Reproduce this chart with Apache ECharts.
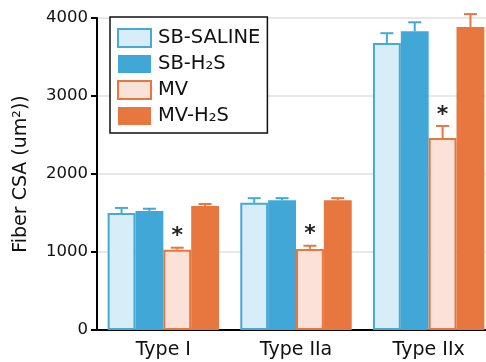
<!DOCTYPE html>
<html>
<head>
<meta charset="utf-8">
<script src="https://cdn.jsdelivr.net/npm/echarts@6/dist/echarts.min.js"></script>
<style>
html,body{margin:0;padding:0;background:#fff;}
#chart{width:486px;height:362px;}
</style>
</head>
<body>
<div id="chart"></div>
<script>
var categories = ['Type I', 'Type IIa', 'Type IIx'];
var seriesNames = ['SB-SALINE', 'SB-H\u2082S', 'MV', 'MV-H\u2082S'];
var sbSaline = [1500, 1630, 3680];
var sbH2S = [1525, 1665, 3830];
var mv = [1030, 1040, 2460];
var mvH2S = [1590, 1665, 3885];
var sbSalineErr = [65, 60, 125];
var sbH2SErr = [30, 25, 115];
var mvErr = [25, 40, 155];
var mvH2SErr = [25, 25, 165];
var yTicks = [0, 1000, 2000, 3000, 4000];
var yTitle = 'Fiber CSA (um\u00b2))';

var values = [sbSaline, sbH2S, mv, mvH2S];
var errs = [sbSalineErr, sbH2SErr, mvErr, mvH2SErr];
var fills = ['#d7edf7', '#40a7d6', '#fae2d8', '#e8763f'];
var strokes = ['#47a9d8', '#40a7d6', '#e8763f', '#e8763f'];
var catGapPct = 16;

var font = 'DejaVu Sans';

var series = [];
values.forEach(function (vals, si) {
  series.push({
    name: seriesNames[si],
    type: 'bar',
    data: vals,
    barGap: '0%',
    barCategoryGap: catGapPct + '%',
    itemStyle: {
      color: fills[si],
      borderColor: strokes[si],
      borderWidth: (si === 0 || si === 2) ? 2 : 0
    },
    z: 2
  });
});

var errData = [];
values.forEach(function (vals, si) {
  vals.forEach(function (v, ci) {
    errData.push([ci, v, v + errs[si][ci], si]);
  });
});

series.push({
  type: 'custom',
  name: 'err',
  data: errData,
  z: 3,
  renderItem: function (params, api) {
    var ci = api.value(0), v = api.value(1), e = api.value(2), si = api.value(3);
    var band = api.size([1, 0])[0];
    var bw = band * (1 - catGapPct / 100) / 4;
    var base = api.coord([ci, v]);
    var top = api.coord([ci, e]);
    var x = base[0] + (si - 1.5) * bw;
    var col = strokes[si];
    var children = [
      { type: 'line', shape: { x1: x, y1: base[1], x2: x, y2: top[1] }, style: { stroke: col, lineWidth: 2 } },
      { type: 'line', shape: { x1: x - 6.5, y1: top[1], x2: x + 6.5, y2: top[1] }, style: { stroke: col, lineWidth: 2 } }
    ];
    if (si === 2) {
      children.push({ type: 'text', x: x, y: top[1] - 11, style: { text: '*', fontSize: 22, fontWeight: 'bold', fontFamily: font, fill: '#222', align: 'center', verticalAlign: 'middle' } });
    }
    return { type: 'group', children: children };
  }
});

var chart = echarts.init(document.getElementById('chart'), null, { renderer: 'canvas' });
chart.setOption({
  animation: false,
  backgroundColor: '#fff',
  textStyle: { fontFamily: font },
  grid: { left: 97, top: 18, height: 312, width: 398, containLabel: false, outerBoundsMode: 'none' },
  legend: {
    data: seriesNames,
    orient: 'vertical',
    left: 110,
    top: 17,
    itemWidth: 33,
    itemHeight: 18,
    itemGap: 6,
    padding: [11, 7, 7, 7],
    borderColor: '#111',
    borderWidth: 1.5,
    backgroundColor: '#fff',
    icon: 'rect',
    textStyle: { fontSize: 19.5, color: '#111', fontFamily: font, padding: [0, 0, 0, 2] }
  },
  xAxis: {
    type: 'category',
    data: categories,
    axisLine: { lineStyle: { color: '#000', width: 2 } },
    axisTick: { show: false },
    axisLabel: { fontSize: 19, color: '#111', margin: 11, fontFamily: font }
  },
  yAxis: {
    type: 'value',
    min: yTicks[0],
    max: yTicks[yTicks.length - 1],
    interval: 1000,
    name: yTitle,
    nameLocation: 'middle',
    nameGap: 66,
    nameTextStyle: { fontSize: 19, color: '#111', fontFamily: font },
    axisLine: { show: true, lineStyle: { color: '#000', width: 2 } },
    axisTick: { show: true, length: 6, lineStyle: { color: '#000', width: 2 } },
    axisLabel: { fontSize: 16.5, color: '#111', margin: 9, fontFamily: font, formatter: function (v) { return String(v); } },
    splitLine: { show: true, lineStyle: { color: '#e8e8e8', width: 2 } }
  },
  series: series
});
</script>
</body>
</html>
